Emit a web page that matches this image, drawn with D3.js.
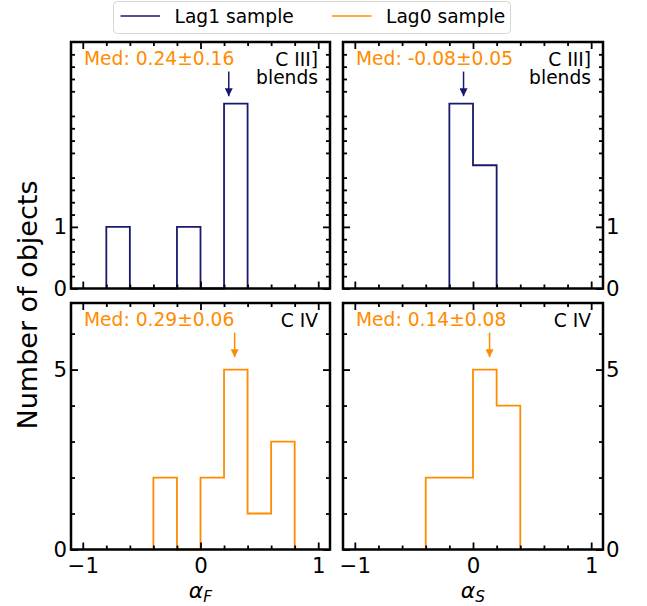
<!DOCTYPE html>
<html lang="en">
  <head>
    <meta charset="utf-8" />
    <title>alpha histograms</title>
    <script type="text/javascript" src="https://d3js.org/d3.v7.min.js"></script>
    <style>
      body { margin: 0; background: #fff; }
      text { font-family: "DejaVu Sans", sans-serif; }
    </style>
  </head>
  <body>
    <div id="graph"></div>

    <script type="text/javascript">
      /***************
       * data
       ***************/

      const binEdges = [-1.0, -0.8, -0.6, -0.4, -0.2, 0.0, 0.2, 0.4, 0.6, 0.8, 1.0];

      // counts per bin (10 bins)
      const lag1AlphaF = [0, 1, 0, 0, 1, 0, 3, 0, 0, 0];
      const lag1AlphaS = [0, 0, 0, 0, 3, 2, 0, 0, 0, 0];
      const lag0AlphaF = [0, 0, 0, 2, 0, 2, 5, 1, 3, 0];
      const lag0AlphaS = [0, 0, 0, 2, 2, 5, 4, 0, 0, 0];

      const medians = [0.24, -0.08, 0.29, 0.14];
      const medErrors = [0.16, 0.05, 0.06, 0.08];
      const medLabels = ["Med: 0.24±0.16", "Med: -0.08±0.05", "Med: 0.29±0.06", "Med: 0.14±0.08"];

      const lineNames = [["C III]", "blends"], ["C III]", "blends"], ["C IV"], ["C IV"]];
      const seriesNames = ["Lag1 sample", "Lag0 sample"];

      const xMajorTicks = [-1, 0, 1];
      const yMajorTicksTop = [0, 1];
      const yMajorTicksBottom = [0, 5];

      /***************
       * layout
       ***************/

      const width = 647;
      const height = 606;
      const navy = "#191970";
      const orange = "#ff8c00";

      const cols = [[71, 330], [343, 603]];
      const rows = [[42, 288.5], [303, 549.5]];

      const panels = [
        { counts: lag1AlphaF, col: 0, row: 0, color: navy, ymax: 4, yMajor: yMajorTicksTop },
        { counts: lag1AlphaS, col: 1, row: 0, color: navy, ymax: 4, yMajor: yMajorTicksTop },
        { counts: lag0AlphaF, col: 0, row: 1, color: orange, ymax: 6.85, yMajor: yMajorTicksBottom },
        { counts: lag0AlphaS, col: 1, row: 1, color: orange, ymax: 6.85, yMajor: yMajorTicksBottom }
      ];

      const svg = d3
        .select("div#graph")
        .append("svg")
        .attr("width", width)
        .attr("height", height);

      // arrow head
      ["navy", "orange"].forEach(function (name) {
        svg.append("defs")
          .append("marker")
          .attr("id", "head-" + name)
          .attr("viewBox", "0 0 10 10")
          .attr("refX", 10)
          .attr("refY", 5)
          .attr("markerUnits", "userSpaceOnUse")
          .attr("markerWidth", 8)
          .attr("markerHeight", 8)
          .attr("orient", "auto")
          .append("path")
          .attr("d", "M0,0 L10,5 L0,10 Z")
          .attr("fill", name === "navy" ? navy : orange);
      });

      const fmt = d3.format("d");

      panels.forEach(function (p, i) {
        const [x0, x1] = cols[p.col];
        const [y0, y1] = rows[p.row];

        const x = d3.scaleLinear().domain([-1.1, 1.1]).range([x0, x1]);
        const y = d3.scaleLinear().domain([0, p.ymax]).range([y1, y0]);

        const g = svg.append("g").attr("class", "panel");

        /*** step histogram ***/
        let first = p.counts.findIndex((c) => c > 0);
        let last = p.counts.length - 1;
        while (p.counts[last] === 0) last--;
        const pts = [[binEdges[first], 0]];
        for (let b = first; b <= last; b++) {
          pts.push([binEdges[b], p.counts[b]]);
          pts.push([binEdges[b + 1], p.counts[b]]);
        }
        pts.push([binEdges[last + 1], 0]);

        const line = d3.line().x((d) => x(d[0])).y((d) => y(d[1]));
        g.append("path")
          .attr("d", line(pts))
          .attr("fill", "none")
          .attr("stroke", p.color)
          .attr("stroke-width", 1.8)
          .attr("stroke-linejoin", "miter");

        /*** median arrow (axes fraction 0.88 -> 0.78) ***/
        const h = y1 - y0;
        g.append("line")
          .attr("x1", x(medians[i]))
          .attr("x2", x(medians[i]))
          .attr("y1", y1 - 0.88 * h)
          .attr("y2", y1 - 0.78 * h)
          .attr("stroke", p.color)
          .attr("stroke-width", 1.5)
          .attr("marker-end", "url(#head-" + (p.color === navy ? "navy" : "orange") + ")");

        /*** texts ***/
        g.append("text")
          .attr("x", x0 + 13)
          .attr("y", y0 + 23)
          .attr("font-size", 18.67)
          .attr("fill", orange)
          .text(medLabels[i]);

        // line name, may wrap onto two lines
        const lbl = g.append("text")
          .attr("x", x1 - 12)
          .attr("y", y0 + 23.5)
          .attr("font-size", 18.67)
          .attr("text-anchor", "end")
          .attr("fill", "#000");
        lineNames[i].forEach(function (t, k) {
          lbl.append("tspan")
            .attr("x", x1 - 12)
            .attr("dy", k === 0 ? 0 : 18)
            .text(t);
        });

        /*** axes ***/
        const xMinor = d3.range(-1.0, 1.01, 0.2).filter((v) => Math.abs(v - Math.round(v)) > 1e-6);
        let yMinor;
        if (p.row === 0) {
          yMinor = d3.range(0.2, p.ymax, 0.2).filter((v) => Math.abs(v - Math.round(v)) > 1e-6);
        } else {
          yMinor = d3.range(1, p.ymax, 1).filter((v) => p.yMajor.indexOf(v) < 0);
        }

        function styleAxis(sel) {
          sel.select(".domain").remove();
          sel.selectAll("line").attr("stroke", "#000").attr("stroke-width", 1.8);
          sel.selectAll("text").attr("font-size", 21.3).attr("fill", "#000");
        }

        // bottom
        const bottomMajor = d3.axisBottom(x).tickValues(xMajorTicks).tickSizeInner(-7).tickSizeOuter(0).tickPadding(8).tickFormat(fmt);
        if (p.row === 0) bottomMajor.tickFormat("");
        g.append("g").attr("transform", `translate(0,${y1})`).call(bottomMajor).call(styleAxis);
        g.append("g").attr("transform", `translate(0,${y1})`)
          .call(d3.axisBottom(x).tickValues(xMinor).tickSizeInner(-4).tickSizeOuter(0).tickFormat(""))
          .call(styleAxis);

        // top
        g.append("g").attr("transform", `translate(0,${y0})`)
          .call(d3.axisTop(x).tickValues(xMajorTicks).tickSizeInner(-7).tickSizeOuter(0).tickFormat(""))
          .call(styleAxis);
        g.append("g").attr("transform", `translate(0,${y0})`)
          .call(d3.axisTop(x).tickValues(xMinor).tickSizeInner(-4).tickSizeOuter(0).tickFormat(""))
          .call(styleAxis);

        // left / right
        const leftMajor = d3.axisLeft(y).tickValues(p.yMajor).tickSizeInner(-7).tickSizeOuter(0).tickPadding(4).tickFormat(fmt);
        const rightMajor = d3.axisRight(y).tickValues(p.yMajor).tickSizeInner(-7).tickSizeOuter(0).tickPadding(3).tickFormat(fmt);
        if (p.col === 0) rightMajor.tickFormat("");
        else leftMajor.tickFormat("");
        g.append("g").attr("transform", `translate(${x0},0)`).call(leftMajor).call(styleAxis);
        g.append("g").attr("transform", `translate(${x1},0)`).call(rightMajor).call(styleAxis);
        g.append("g").attr("transform", `translate(${x0},0)`)
          .call(d3.axisLeft(y).tickValues(yMinor).tickSizeInner(-4).tickSizeOuter(0).tickFormat(""))
          .call(styleAxis);
        g.append("g").attr("transform", `translate(${x1},0)`)
          .call(d3.axisRight(y).tickValues(yMinor).tickSizeInner(-4).tickSizeOuter(0).tickFormat(""))
          .call(styleAxis);

        // frame
        g.append("rect")
          .attr("x", x0)
          .attr("y", y0)
          .attr("width", x1 - x0)
          .attr("height", y1 - y0)
          .attr("fill", "none")
          .attr("stroke", "#000")
          .attr("stroke-width", 2.5);
      });

      /*** axis labels ***/
      svg.append("text")
        .attr("transform", "translate(37,305) rotate(-90)")
        .attr("text-anchor", "middle")
        .attr("font-size", 27)
        .text("Number of objects");

      const xLabels = [["α", "F"], ["α", "S"]];
      xLabels.forEach(function (lab, c) {
        const cx = (cols[c][0] + cols[c][1]) / 2;
        const t = svg.append("text")
          .attr("x", cx)
          .attr("y", 598)
          .attr("text-anchor", "middle")
          .attr("font-size", 22)
          .attr("font-style", "italic");
        t.append("tspan").text(lab[0]);
        t.append("tspan").attr("font-size", 15.4).attr("dy", 4).text(lab[1]);
      });

      /*** legend ***/
      const legend = svg.append("g").attr("class", "legend");
      legend.append("rect")
        .attr("x", 113.5)
        .attr("y", 1.5)
        .attr("width", 397)
        .attr("height", 32)
        .attr("rx", 4)
        .attr("fill", "#fff")
        .attr("stroke", "#d6d6d6")
        .attr("stroke-width", 1);

      const legendX = [120.5, 332];
      seriesNames.forEach(function (name, k) {
        legend.append("line")
          .attr("x1", legendX[k])
          .attr("x2", legendX[k] + 39.5)
          .attr("y1", 16)
          .attr("y2", 16)
          .attr("stroke", k === 0 ? navy : orange)
          .attr("stroke-width", 1.5);
        legend.append("text")
          .attr("x", legendX[k] + 54)
          .attr("y", 22.5)
          .attr("font-size", 18.67)
          .text(name);
      });
    </script>
  </body>
</html>
